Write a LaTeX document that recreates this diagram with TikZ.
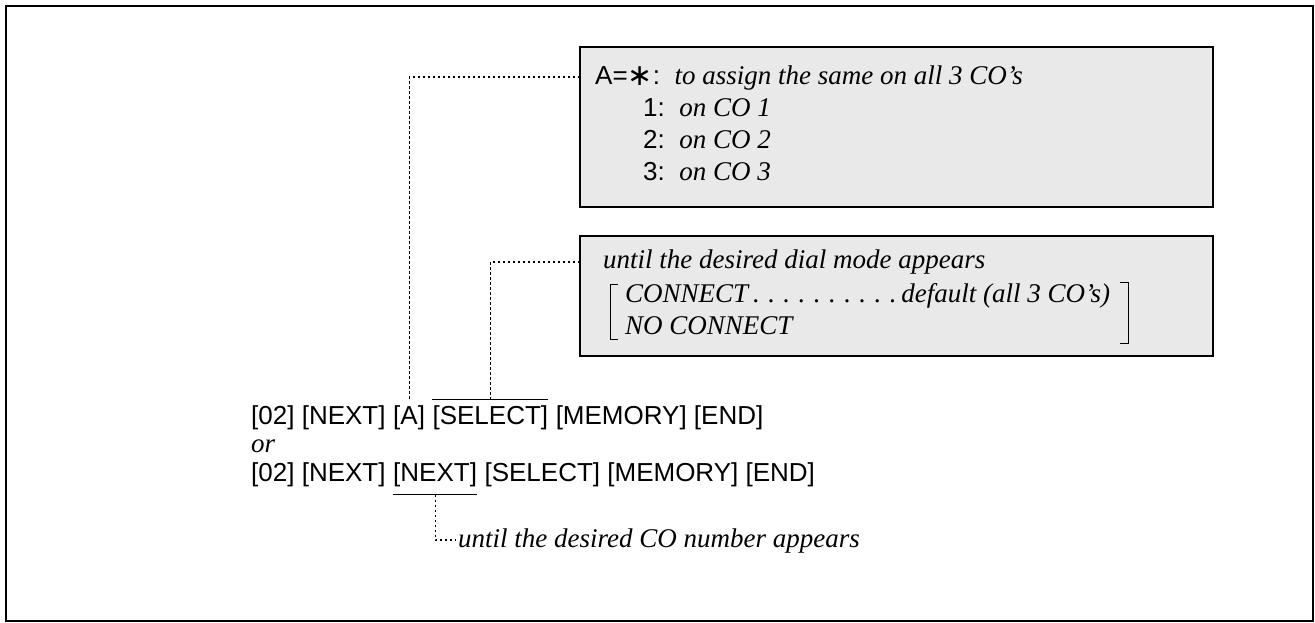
\documentclass[tikz,border=0pt]{standalone}
\usepackage{fontspec}
\setmainfont{Liberation Serif}
\setsansfont{Liberation Sans}
\newfontfamily\djvsans{DejaVu Sans}
\begin{document}
\begin{tikzpicture}[x=1pt,y=-1pt,
  frame/.style={draw=black, line width=1.3pt},
  notebox/.style={draw=black, line width=1.2pt, fill=gray!17},
  dotline/.style={line width=1.1pt, dash pattern=on 2.5pt off 2.5pt},
  rule/.style={line width=1pt},
  sanst/.style={font=\fontsize{26}{30}\selectfont\sffamily, inner sep=0pt, anchor=base west},
  serift/.style={font=\fontsize{27}{32}\selectfont\rmfamily\itshape, inner sep=0pt, anchor=base west}]
\useasboundingbox (0,0) rectangle (1315,623);
\draw[frame] (6,6) rectangle (1313,621);
% boxes
\draw[notebox] (580,47) rectangle (1213,207);
\coordinate (b1) at (580,77);
\draw[notebox] (580,236) rectangle (1213,356);
\coordinate (b2) at (580,262);
% box 1 text
\node[sanst] (r1) at (595,85) {A=\raisebox{-1pt}{\fontsize{30}{30}\selectfont\djvsans ∗}:\ \ {\fontsize{27}{32}\selectfont\rmfamily\itshape to assign the same on all 3 CO's}};
\node[sanst] (r2) at (643,117) {1:\ \ {\fontsize{27}{32}\selectfont\rmfamily\itshape on CO 1}};
\node[sanst] (r3) at (643,149) {2:\ \ {\fontsize{27}{32}\selectfont\rmfamily\itshape on CO 2}};
\node[sanst] (r4) at (643,181) {3:\ \ {\fontsize{27}{32}\selectfont\rmfamily\itshape on CO 3}};
% box 2 text
\node[serift] (m1) at (603,268) {until the desired dial mode appears};
\node[serift] (m2) at (625,302) {\makebox[485pt][l]{CONNECT\xleaders\hbox to 14pt{\hss.\hss}\hfill default (all 3 CO's)}};
\node[serift] (m3) at (625,334) {NO CONNECT};
\draw[rule] (618,284) -- (610,284) -- (610,339) -- (618,339);
\draw[rule] (1120,282) -- (1128,282) -- (1128,343) -- (1120,343);
% key sequence line 1
\node[sanst] (l1a) at (251,424) {[02] [NEXT]};
\node[sanst, xshift=7.2pt] (kA) at (l1a.base east) {[A]};
\node[sanst, xshift=7.2pt] (kS) at (kA.base east) {[SELECT]};
\node[sanst, xshift=7.2pt] (l1b) at (kS.base east) {[MEMORY] [END]};
\draw[rule] ([yshift=5pt]kS.north west) -- ([yshift=5pt]kS.north east);
% or
\node[serift] (or) at (251,452) {or};
% line 2
\node[sanst] (l2a) at (251,481) {[02] [NEXT]};
\node[sanst, xshift=7.2pt] (kN) at (l2a.base east) {[NEXT]};
\node[sanst, xshift=7.2pt] (l2b) at (kN.base east) {[SELECT] [MEMORY] [END]};
\draw[rule] ([yshift=-8pt]kN.south west) -- ([yshift=-8pt]kN.south east);
\coordinate (nb) at ([yshift=-8pt]kN.south);
% connectors
\draw[dotline] (b1) -| ([yshift=5pt]kA.north);
\draw[dotline] (b2) -| ([yshift=5pt]kS.north);
\node[serift] (cn) at (458,547) {until the desired CO number appears};
\coordinate (corner) at (nb |- 0,540);
\draw[dotline] (nb) -- (corner) -- ([xshift=-2pt]cn.west |- corner);
\end{tikzpicture}
\end{document}
